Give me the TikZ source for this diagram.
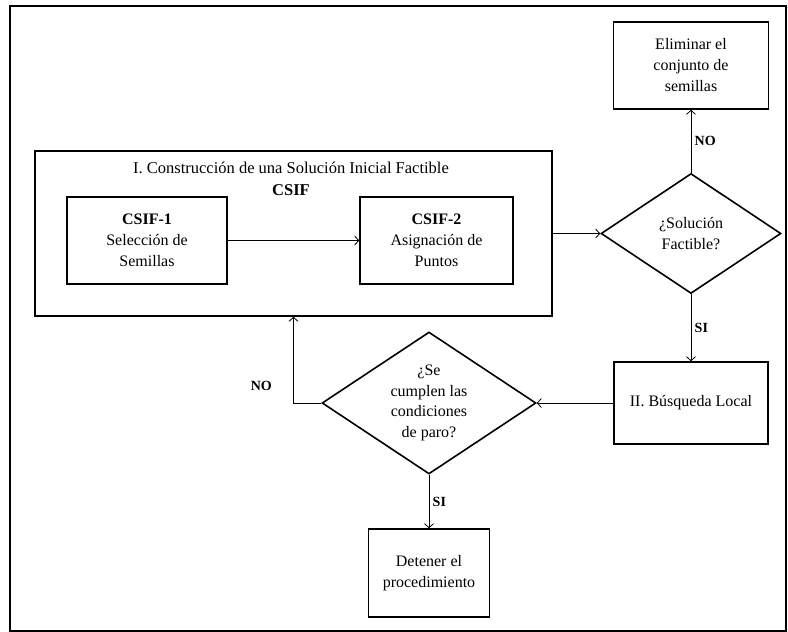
\documentclass[tikz,border=0pt]{standalone}
\usepackage{fontspec}
\setmainfont{Liberation Serif}
\usetikzlibrary{shapes.geometric,arrows.meta}

\tikzset{
  caja/.style={draw,line width=1.6pt,align=center,inner sep=2pt,font=\fontsize{16}{21}\selectfont},
  rombo/.style={draw,diamond,line width=1.6pt,aspect=1.5,inner sep=0pt,align=center,font=\fontsize{16}{20.5}\selectfont},
  flecha/.style={->,line width=0.8pt},
  etiq/.style={font=\fontsize{14}{16}\selectfont\bfseries}
}

\begin{document}
\begin{tikzpicture}[x=1pt,y=-1pt,>={Straight Barb[length=4pt,width=9pt]}]
  \useasboundingbox (0,0) rectangle (788,632);
  \draw[line width=1.6pt] (10,6) rectangle (786,631);
  % bloque I
  \node[caja,minimum width=517pt,minimum height=165pt] (csif) at (293.5,233.5) {};
  \node[align=center,font=\fontsize{16.5}{22}\selectfont] (titulo) at (291,179) {I. Construcción de una Solución Inicial Factible\\\textbf{CSIF}};
  \node[caja,minimum width=160pt,minimum height=87pt] (csif1) at (147,240.5) {\textbf{CSIF-1}\\Selección de\\Semillas};
  \node[caja,minimum width=153pt,minimum height=87pt] (csif2) at (436.5,240.5) {\textbf{CSIF-2}\\Asignación de\\Puntos};
  % decisiones
  \node[rombo,minimum width=180pt,minimum height=120pt] (fact) at (691,233.5) {¿Solución\\Factible?};
  \node[caja,minimum width=155pt,minimum height=87pt] (elim) at (691,65.5) {Eliminar el\\conjunto de\\semillas};
  \node[caja,minimum width=154pt,minimum height=82pt] (busq) at (691,403) {II. Búsqueda Local};
  \node[rombo,minimum width=214pt,minimum height=142pt] (paro) at (429,403) {¿Se\\cumplen las\\condiciones\\de paro?};
  \node[caja,minimum width=121pt,minimum height=88pt] (det) at (429,573) {Detener el\\procedimiento};
  % flechas
  \draw[flecha] (csif1) -- (csif2);
  \draw[flecha] (csif) -- (fact);
  \draw[flecha] (fact) -- (elim) node[midway,right,etiq]{NO};
  \draw[flecha] (fact) -- (busq) node[midway,right,etiq]{SI};
  \draw[flecha] (busq) -- (paro);
  \draw[flecha] (paro.west) -| (csif.south) node[pos=0.6,left=18pt,etiq]{NO};
  \draw[flecha] (paro) -- (det) node[midway,right,etiq]{SI};
\end{tikzpicture}
\end{document}
